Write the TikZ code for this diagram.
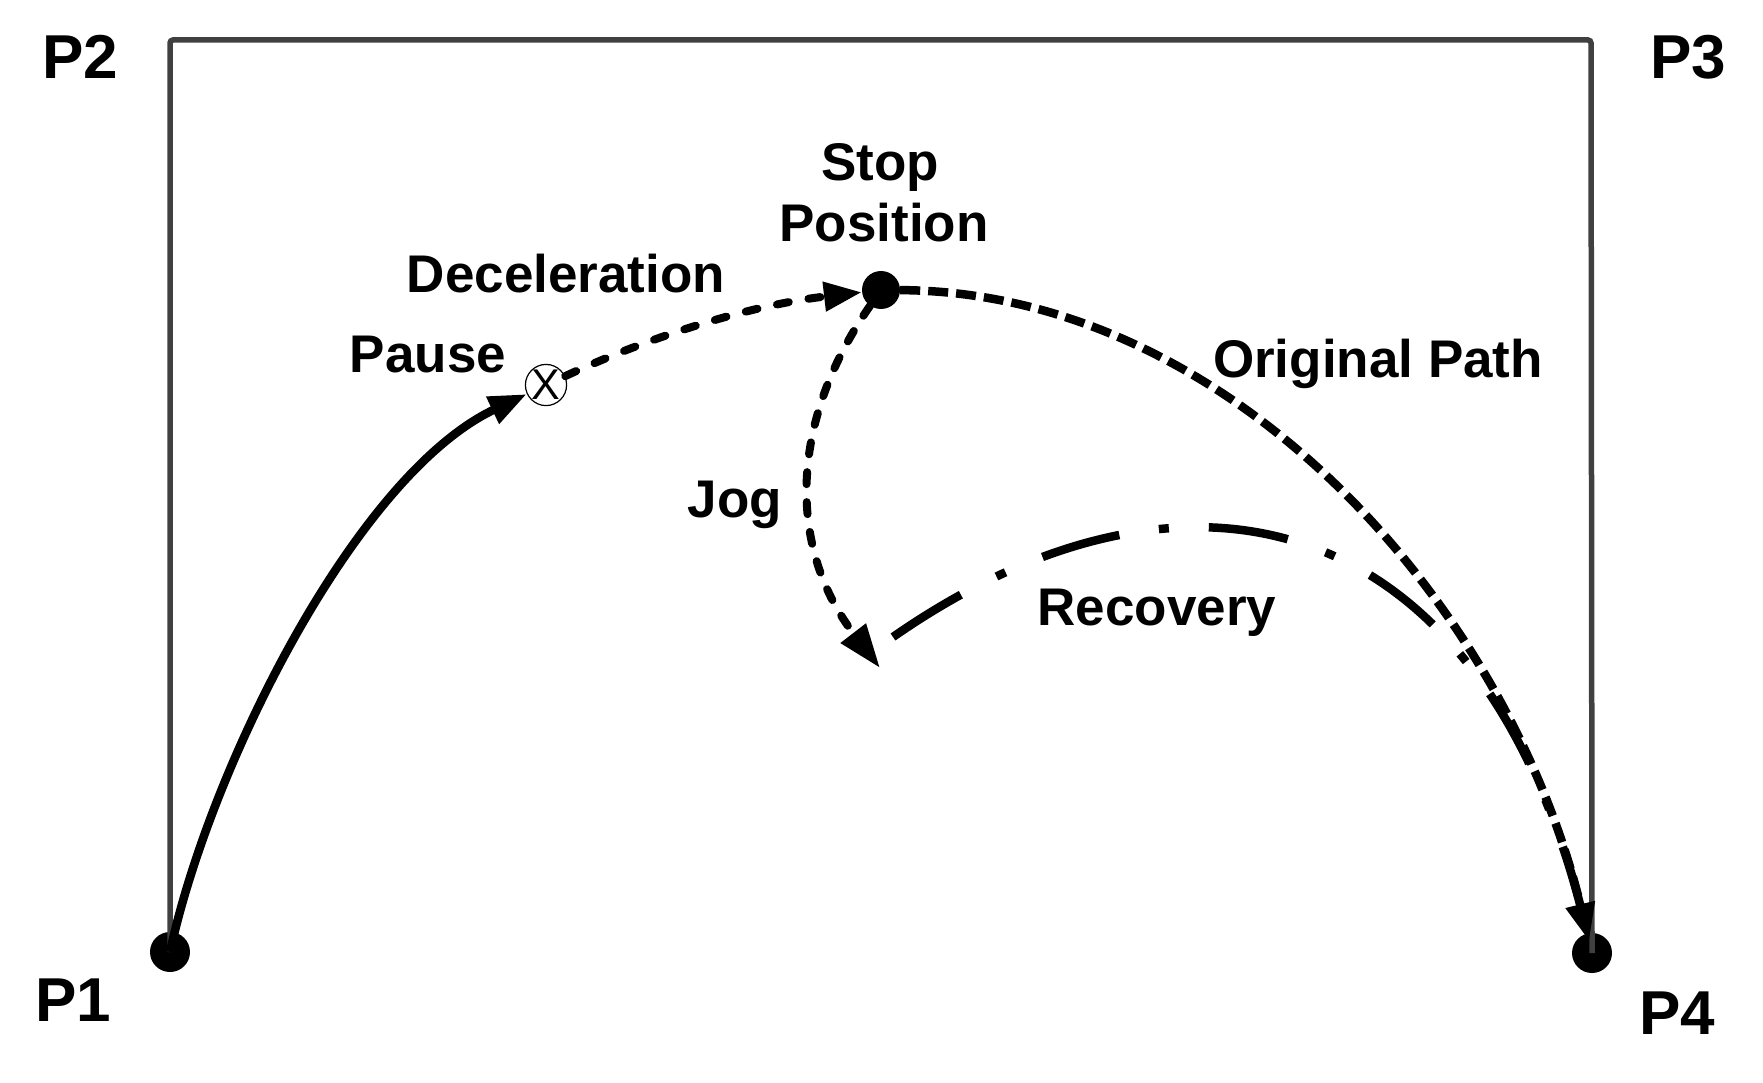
\documentclass[tikz,border=0pt]{standalone}
\usepackage{fontspec}
\setmainfont{Liberation Sans}
\usetikzlibrary{arrows.meta}
\begin{document}
\begin{tikzpicture}[x=1pt,y=-1pt,
  lbl/.style={font=\fontsize{53}{60}\selectfont\bfseries, inner sep=0pt, anchor=base},
  plbl/.style={font=\fontsize{62}{70}\selectfont\bfseries, inner sep=0pt, anchor=base},
  dot/.style={circle, fill=black, inner sep=0pt, minimum size=40pt},
  pausecirc/.style={circle, draw=black, line width=1.2pt, fill=white, inner sep=0pt,
    minimum size=38pt, font=\fontsize{43}{43}\selectfont},
  frame/.style={draw=black!75, line width=5.5pt, rounded corners=3pt},
  arrtip/.style={-{Triangle[length=38pt,width=28pt]}},
  solidpath/.style={line width=8.5pt, arrtip},
  decel/.style={line width=8pt, line cap=round, dash pattern=on 12pt off 20pt, arrtip},
  jogpath/.style={line width=8pt, line cap=round, dash pattern=on 12pt off 18pt,
    -{Triangle[length=44pt,width=30pt]}},
  origpath/.style={line width=8.5pt, dash pattern=on 20pt off 8pt, arrtip, shorten >=12pt},
  recpath/.style={line width=8.5pt, dash pattern=on 80pt off 40pt on 10pt off 40pt, shorten >=28pt}
]
\useasboundingbox (0,0) rectangle (1763,1083);

% points
\node[dot] (P1) at (170,952) {};
\node[dot] (P4) at (1592,953) {};
\node[dot, minimum size=38pt] (stop) at (881,290) {};
\node[pausecirc] (pause) at (546,385) {X};
\coordinate (c2) at (170,40);
\coordinate (c3) at (1591,40);
\coordinate (jogend) at (880,668);
\coordinate (recstart) at (893,637);

% frame
\draw[frame] (P1.center) -- (c2) -- (c3) -- (P4.center);

% paths
\draw[solidpath] (P1.center) .. controls +(40,-185) and +(-190,90) .. (pause);
\draw[decel] (pause) .. controls +(108,-50) and +(-129,15) .. (stop);
\draw[origpath] (stop) .. controls +(349,2) and +(-85,-350) .. (P4.center);
\draw[jogpath] (stop) .. controls +(-95,137) and +(-90,-117) .. (jogend);
\draw[recpath] (recstart) .. controls +(287,-200) and +(-110,-456) .. (P4.center);

% labels
\node[plbl] (lP2) at (80,79) {P2};
\node[plbl] (lP3) at (1688,79) {P3};
\node[plbl] (lP1) at (73,1021) {P1};
\node[plbl] (lP4) at (1677,1034) {P4};
\node[lbl] (lstop) at (880,181) {Stop};
\node[lbl] (lpos) at (884,242) {Position};
\node[lbl] (ldec) at (566,292) {Deceleration};
\node[lbl] (lpause) at (428,372) {Pause};
\node[lbl] (lorig) at (1378,377) {Original Path};
\node[lbl] (ljog) at (735,517) {Jog};
\node[lbl] (lrec) at (1157,625) {Recovery};
\end{tikzpicture}
\end{document}
